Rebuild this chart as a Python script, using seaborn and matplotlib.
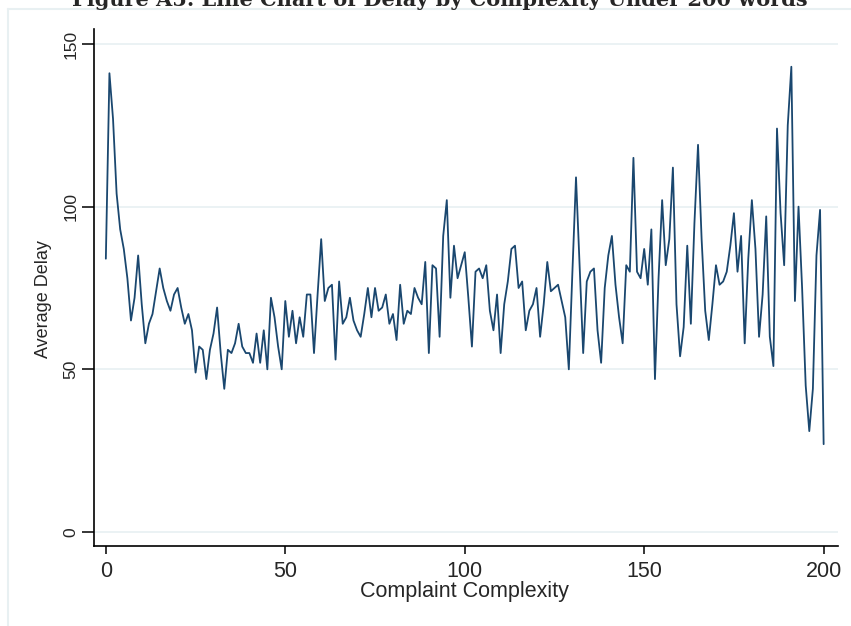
import matplotlib
matplotlib.use("Agg")
import matplotlib.pyplot as plt
import pandas as pd
import seaborn as sns
from matplotlib.lines import Line2D

# Average delay for each complaint-complexity level (0..200 words)
complexity = list(range(0, 201))
average_delay = [
    84, 141, 127, 104, 93, 87, 78, 65, 72, 85,
    70, 58, 64, 67, 74, 81, 75, 71, 68, 73,
    75, 69, 64, 67, 62, 49, 57, 56, 47, 56,
    61, 69, 55, 44, 56, 55, 58, 64, 57, 55,
    55, 52, 61, 52, 62, 50, 72, 66, 57, 50,
    71, 60, 68, 58, 66, 60, 73, 73, 55, 73,
    90, 71, 75, 76, 53, 77, 64, 66, 72, 65,
    62, 60, 67, 75, 66, 75, 68, 69, 73, 64,
    67, 59, 76, 64, 68, 67, 75, 72, 70, 83,
    55, 82, 81, 60, 91, 102, 72, 88, 78, 82,
    86, 72, 57, 80, 81, 78, 82, 68, 62, 73,
    55, 70, 77, 87, 88, 75, 77, 62, 68, 70,
    75, 60, 70, 83, 74, 75, 76, 71, 66, 50,
    80, 109, 82, 55, 77, 80, 81, 62, 52, 75,
    85, 91, 76, 66, 58, 82, 80, 115, 80, 78,
    87, 76, 93, 47, 78, 102, 82, 90, 112, 70,
    54, 63, 88, 64, 95, 119, 90, 68, 59, 70,
    82, 76, 77, 80, 88, 98, 80, 91, 58, 84,
    102, 87, 60, 73, 97, 60, 51, 124, 98, 82,
    125, 143, 71, 100, 75, 45, 31, 44, 85, 99,
    27,
]
x_ticks = [0, 50, 100, 150, 200]
y_ticks = [0, 50, 100, 150]

title = "Figure A5. Line Chart of Delay by Complexity Under 200 words"
x_label = "Complaint Complexity"
y_label = "Average Delay"

W, H = 851, 626
navy = "#1a476f"
grid_col = "#e8f0f2"

sns.set_style("white")
plt.rcParams["font.family"] = ["Liberation Sans", "DejaVu Sans"]

fig = plt.figure(figsize=(W / 100, H / 100), dpi=100)
fig.patch.set_facecolor("white")

# plot region in pixels
left, right, top, bottom = 94, 838, 29, 546
ax = fig.add_axes([left / W, 1 - bottom / H, (right - left) / W, (bottom - top) / H])

df = pd.DataFrame({x_label: complexity, y_label: average_delay})
sns.lineplot(data=df, x=x_label, y=y_label, color=navy, linewidth=1.3, ax=ax)

ax.set_xlim(-3.3, 204.0)
ax.set_ylim(-4.3, 154.6)
ax.set_xticks(x_ticks)
ax.set_yticks(y_ticks)

ax.yaxis.grid(True, color=grid_col, linewidth=1.2)
ax.xaxis.grid(False)
ax.set_axisbelow(True)

for s in ("top", "right"):
    ax.spines[s].set_visible(False)
for s in ("left", "bottom"):
    ax.spines[s].set_color("black")
    ax.spines[s].set_linewidth(1.2)

ax.tick_params(axis="x", direction="out", length=6, width=1.1, color="black",
               pad=4.5, labelsize=15.5, bottom=True)
ax.tick_params(axis="y", direction="out", length=8.5, width=1.1, color="black",
               pad=2.5, labelsize=12.5, left=True, labelrotation=90)
for lbl in ax.get_yticklabels():
    lbl.set_va("center")

ax.set_xlabel(x_label, fontsize=15.5)
ax.set_ylabel(y_label, fontsize=13)
ax.xaxis.set_label_coords((464 - left) / (right - left), (bottom - 592) / (bottom - top))
ax.xaxis.label.set_va("center")
ax.yaxis.set_label_coords((44 - left) / (right - left), (bottom - 299) / (bottom - top))
ax.yaxis.label.set_va("center")

# light outline of the graph region
fig.add_artist(Line2D([8 / W, 8 / W], [0, 1 - 9 / H], transform=fig.transFigure,
                      color=grid_col, linewidth=1.5))
fig.add_artist(Line2D([8 / W, 1], [1 - 9 / H, 1 - 9 / H], transform=fig.transFigure,
                      color=grid_col, linewidth=1.5))

# caption above the graph, partly cut by the page edge
fig.text(440 / W, 1 - 6 / H, title, ha="center", va="baseline",
         fontsize=15, fontweight="bold", family=["DejaVu Serif"])

fig.savefig("out.png", dpi=100)
